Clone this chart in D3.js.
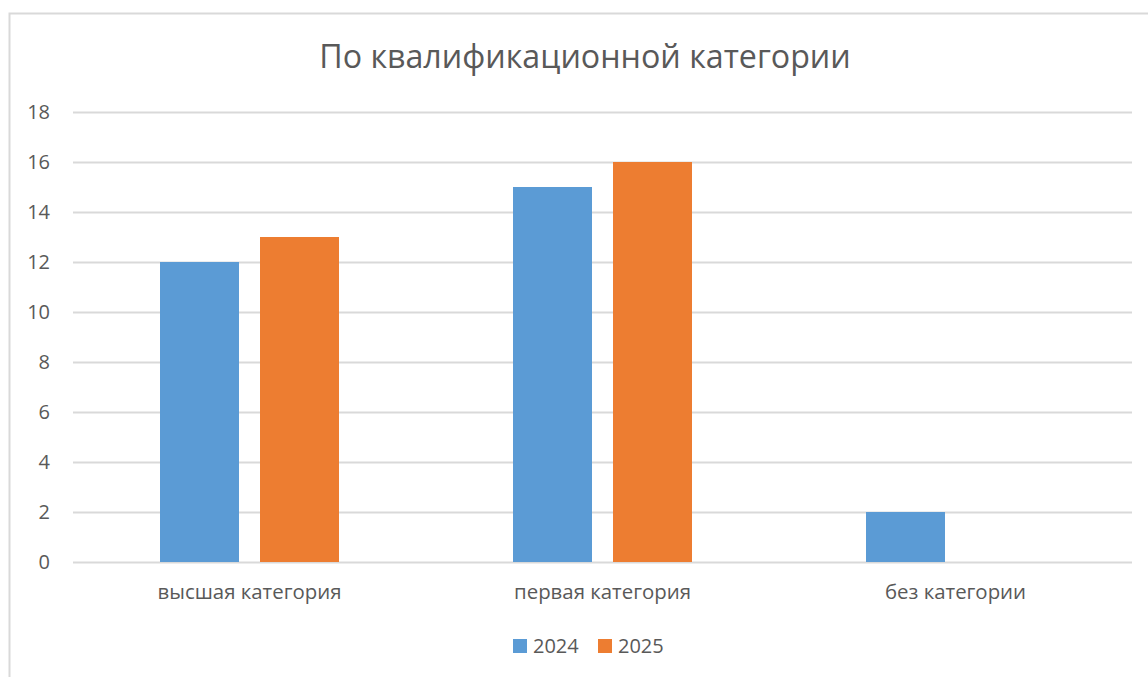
<!DOCTYPE html>
<meta charset="utf-8">
<style>
body { margin: 0; background: #fff; }
text { font-family: "Open Sans", sans-serif; fill: #595959; }
.grid line { stroke: #d9d9d9; stroke-width: 2px; }
.grid path { display: none; }
</style>
<body>
<script src="https://d3js.org/d3.v7.min.js"></script>
<script>

var categories = ["высшая категория", "первая категория", "без категории"];
var series = ["2024", "2025"];
var values2024 = [12, 15, 2];
var values2025 = [13, 16, 0];
var yTicks = [0, 2, 4, 6, 8, 10, 12, 14, 16, 18];
var colors = ["#5b9bd5", "#ed7d31"];

var width = 1148, height = 677;
var plot = {left: 73, right: 1132, top: 112, bottom: 562};

var svg = d3.select("body").append("svg")
    .attr("width", width)
    .attr("height", height);

// chart frame (right and bottom edges fall outside the picture)
svg.append("rect")
    .attr("x", 9.5).attr("y", 13.5)
    .attr("width", 1160).attr("height", 700)
    .attr("fill", "none")
    .attr("stroke", "#d9d9d9")
    .attr("stroke-width", 2);

var x0 = d3.scaleBand()
    .domain(categories)
    .range([plot.left, plot.right]);

var groupW = 179;
var x1 = d3.scaleBand()
    .domain(series)
    .range([0, groupW])
    .paddingInner(0.21);

var y = d3.scaleLinear()
    .domain([0, 18])
    .range([plot.bottom, plot.top]);

// gridlines
svg.append("g")
    .attr("class", "grid")
    .attr("transform", "translate(" + plot.left + ",0)")
    .call(d3.axisRight(y).tickValues(yTicks).tickSize(plot.right - plot.left).tickFormat(""));

// y tick labels
svg.append("g").selectAll("text")
    .data(yTicks)
  .enter().append("text")
    .attr("x", 50)
    .attr("y", function(d) { return y(d); })
    .attr("dy", "0.35em")
    .attr("text-anchor", "end")
    .style("font-size", "20px")
    .text(function(d) { return d; });

var rows = categories.map(function(c, i) {
  return {cat: c, vals: [values2024[i], values2025[i]]};
});

var groups = svg.append("g").selectAll("g")
    .data(rows)
  .enter().append("g")
    .attr("transform", function(d) {
      return "translate(" + (x0(d.cat) + (x0.bandwidth() - groupW) / 2) + ",0)";
    });

groups.selectAll("rect")
    .data(function(d) { return d.vals.map(function(v, j) { return {s: series[j], v: v, j: j}; }); })
  .enter().append("rect")
    .filter(function(d) { return d.v > 0; })
    .attr("x", function(d) { return x1(d.s); })
    .attr("y", function(d) { return y(d.v); })
    .attr("width", x1.bandwidth())
    .attr("height", function(d) { return y(0) - y(d.v); })
    .attr("fill", function(d) { return colors[d.j]; });

// category labels
svg.append("g").selectAll("text")
    .data(categories)
  .enter().append("text")
    .attr("x", function(d) { return x0(d) + x0.bandwidth() / 2; })
    .attr("y", 592)
    .attr("dy", "0.35em")
    .attr("text-anchor", "middle")
    .style("font-size", "20.4px")
    .text(function(d) { return d; });

// title
svg.append("text")
    .attr("x", 585)
    .attr("y", 57)
    .attr("dy", "0.35em")
    .attr("text-anchor", "middle")
    .style("font-size", "32.2px")
    .text("По квалификационной категории");

// legend
var legendX = [513, 598];
var legend = svg.append("g").selectAll("g")
    .data(series)
  .enter().append("g")
    .attr("transform", function(d, i) { return "translate(" + legendX[i] + ",646)"; });

legend.append("rect")
    .attr("x", 0).attr("y", -7)
    .attr("width", 14).attr("height", 14)
    .attr("fill", function(d, i) { return colors[i]; });

legend.append("text")
    .attr("x", 20)
    .attr("dy", "0.35em")
    .style("font-size", "20px")
    .text(function(d) { return d; });

</script>
